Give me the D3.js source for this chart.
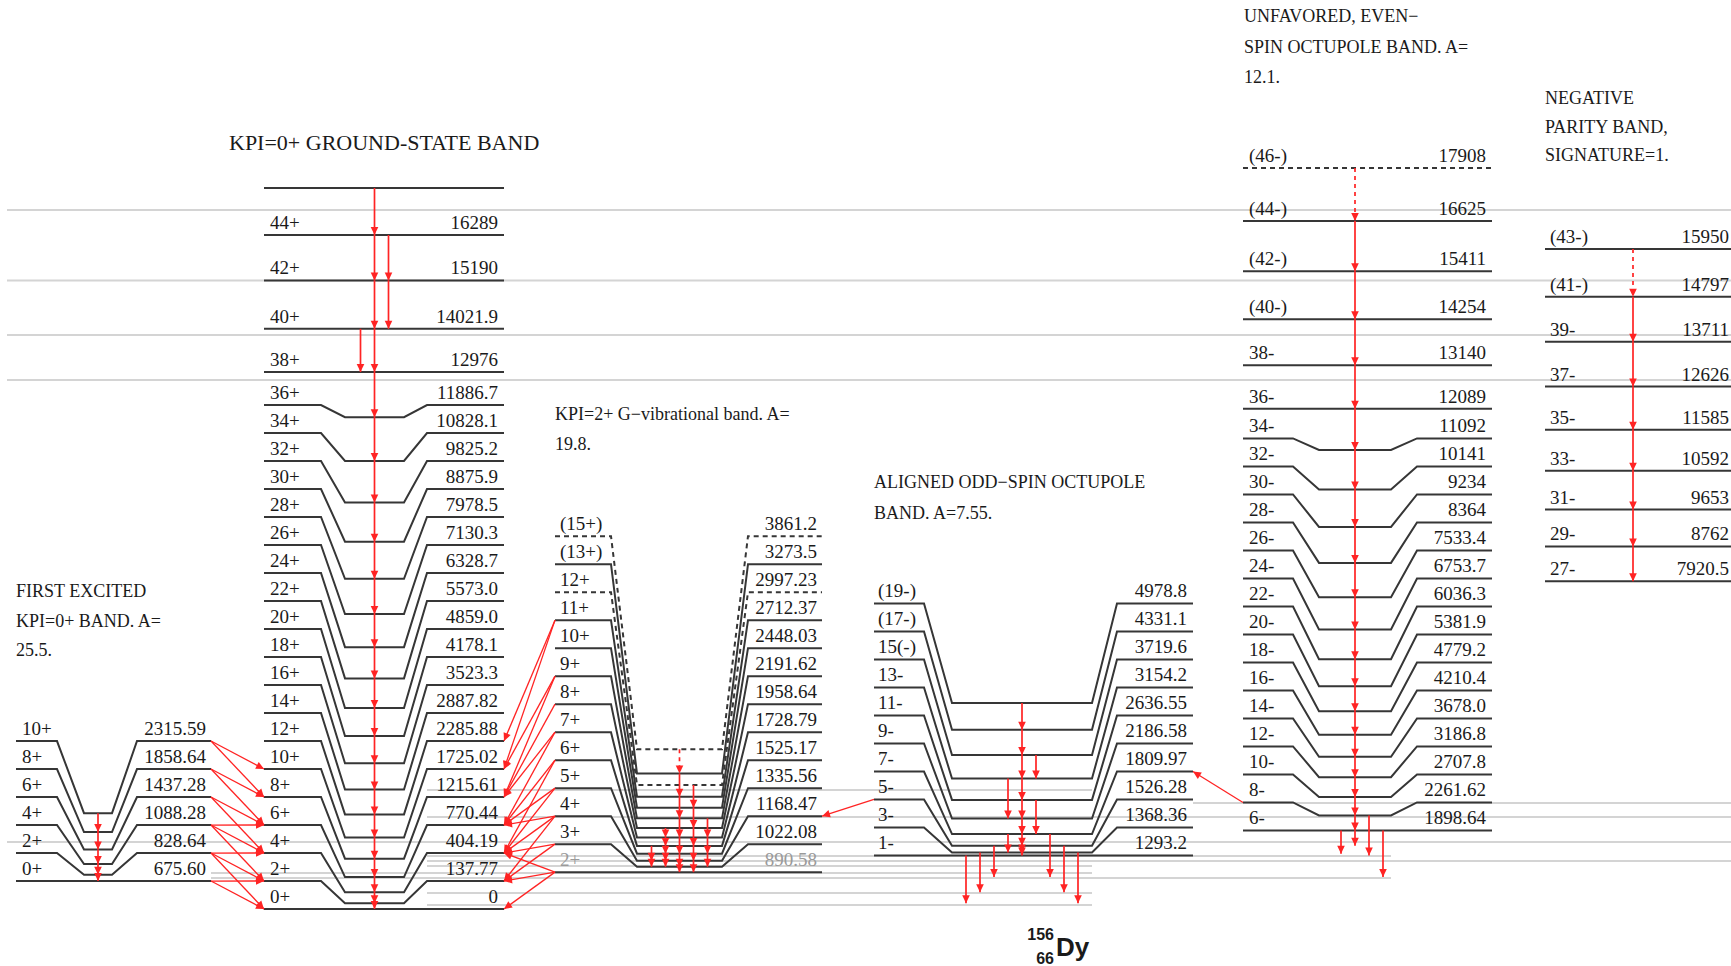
<!DOCTYPE html>
<html>
<head>
<meta charset="utf-8">
<script src="https://cdn.jsdelivr.net/npm/d3@7"></script>
<style>
  html, body { margin: 0; padding: 0; background: #fff; }
  svg { display: block; }
</style>
</head>
<body>
<svg id="chart" width="1731" height="966"></svg>
<script>
// ---------------- Level data (energies in keV) ----------------
const febSpin   = ["0+","2+","4+","6+","8+","10+"];
const febEnergy = ["675.60","828.64","1088.28","1437.28","1858.64","2315.59"];

const gsbSpin   = ["0+","2+","4+","6+","8+","10+","12+","14+","16+","18+","20+","22+","24+","26+","28+","30+","32+","34+","36+","38+","40+","42+","44+"];
const gsbEnergy = ["0","137.77","404.19","770.44","1215.61","1725.02","2285.88","2887.82","3523.3","4178.1","4859.0","5573.0","6328.7","7130.3","7978.5","8875.9","9825.2","10828.1","11886.7","12976","14021.9","15190","16289"];
const gsbTopUnlabelled = 17424;   // unlabelled level feeding 44+

const gamSpin   = ["2+","3+","4+","5+","6+","7+","8+","9+","10+","11+","12+","(13+)","(15+)"];
const gamEnergy = ["890.58","1022.08","1168.47","1335.56","1525.17","1728.79","1958.64","2191.62","2448.03","2712.37","2997.23","3273.5","3861.2"];
const gamTentative = ["12+","(15+)"];

const osbSpin   = ["1-","3-","5-","7-","9-","11-","13-","15(-)","(17-)","(19-)"];
const osbEnergy = ["1293.2","1368.36","1526.28","1809.97","2186.58","2636.55","3154.2","3719.6","4331.1","4978.8"];

const uebSpin   = ["6-","8-","10-","12-","14-","16-","18-","20-","22-","24-","26-","28-","30-","32-","34-","36-","38-","(40-)","(42-)","(44-)","(46-)"];
const uebEnergy = ["1898.64","2261.62","2707.8","3186.8","3678.0","4210.4","4779.2","5381.9","6036.3","6753.7","7533.4","8364","9234","10141","11092","12089","13140","14254","15411","16625","17908"];
const uebTentative = ["(46-)"];

const npbSpin   = ["27-","29-","31-","33-","35-","37-","39-","(41-)","(43-)"];
const npbEnergy = ["7920.5","8762","9653","10592","11585","12626","13711","14797","15950"];

// Band captions
const febTitle = ["FIRST EXCITED","KPI=0+ BAND. A=","25.5."];
const gsbTitle = ["KPI=0+ GROUND-STATE BAND"];
const gamTitle = ["KPI=2+ G\u2212vibrational band. A=","19.8."];
const osbTitle = ["ALIGNED ODD\u2212SPIN OCTUPOLE","BAND. A=7.55."];
const uebTitle = ["UNFAVORED, EVEN\u2212","SPIN OCTUPOLE BAND. A=","12.1."];
const npbTitle = ["NEGATIVE","PARITY BAND,","SIGNATURE=1."];

// ---------------- Transition data ----------------
// In-band cascades: gamma rays between successive entries of each path
const febCascades = [{path:["10+","8+","6+","4+","2+","0+"]}];
const gsbCascades = [
  {path:["","44+","42+","40+","38+","36+","34+","32+","30+","28+","26+","24+","22+","20+","18+","16+","14+","12+","10+","8+","6+","4+","2+","0+"]},
  {path:["44+","42+","40+"]},
  {path:["40+","38+"]}
];
const gamCascades = [
  {path:["(15+)","(13+)"], tentative:true},
  {path:["(13+)","11+","9+","7+","5+","3+","2+"]},
  {path:["12+","10+","8+","6+","4+","2+"]},
  {path:["9+","7+","5+","3+"]},
  {path:["8+","7+"], tentative:true},
  {path:["7+","6+","5+","4+","3+"]},
  {path:["6+","4+","3+"]}
];
const osbCascades = [
  {path:["(19-)","(17-)","15(-)","13-","11-","9-","7-","5-","3-","1-"]},
  {path:["15(-)","13-"]},
  {path:["11-","7-"]},
  {path:["13-","9-"]},
  {path:["7-","3-"]}
];
const uebCascades = [
  {path:["(46-)","(44-)"], tentative:true},
  {path:["(44-)","(42-)","(40-)","38-","36-","34-","32-","30-","28-","26-","24-","22-","20-","18-","16-","14-","12-","10-","8-","6-"]}
];
const npbCascades = [
  {path:["(43-)","(41-)"], tentative:true},
  {path:["(41-)","39-","37-","35-","33-","31-","29-","27-"]}
];

// Out-of-band decays drawn straight down from the emitting band
const dropDecays = [
  ["osb","1-","gsb","2+"],
  ["osb","3-","gsb","4+"],
  ["osb","5-","gsb","6+"],
  ["osb","7-","gsb","6+"],
  ["osb","5-","gsb","4+"],
  ["osb","3-","gsb","2+"],
  ["ueb","6-","osb","5-"],
  ["ueb","6-","gam","5+"],
  ["ueb","8-","osb","1-"],
  ["ueb","6-","gsb","6+"]
];

// Inter-band decays drawn between neighbouring label lines
const febToGsb = [["10+","10+"],["10+","8+"],["8+","8+"],["8+","6+"],["6+","6+"],["6+","4+"],["4+","6+"],["4+","4+"],["4+","2+"],["2+","4+"],["2+","2+"],["2+","0+"],["0+","2+"],["0+","0+"]];
const gamToGsb = [["11+","12+"],["11+","10+"],["9+","10+"],["9+","8+"],["8+","8+"],["7+","8+"],["7+","6+"],["6+","6+"],["6+","4+"],["5+","6+"],["5+","4+"],["4+","6+"],["4+","4+"],["4+","2+"],["3+","4+"],["3+","2+"],["2+","4+"],["2+","2+"],["2+","0+"]];
const osbToGam = [["5-","4+"]];
const uebToOsb = [["8-","7-"]];

// Faint reference lines marking final-state energies
const guideEnergy = [16890, 15190, 13870, 12785, 2876, 2562, 2223, 1619, 1281, 1160, 1039, 870, 749, 387, 97];
const guideSpan   = ["all","all","all","all","gsb-osb","osb-right","gsb-right","all","gsb-ueb","gsb-right","gsb-osb","feb-osb","feb-ueb","gsb-osb","gsb-osb"];

// ---------------- Layout ----------------
const W = 1731, H = 966;
const LABEL_GAP = 28;     // minimum spacing of label lines
const LANE_STEP = 14;

const geom = {
  feb: {xL0:16,   xL1:57,   xI0:84,   xI1:112,  xR0:137,  xR1:211,  labelX:22,   energyX:206},
  gsb: {xL0:264,  xL1:321,  xI0:345,  xI1:404,  xR0:427,  xR1:504,  labelX:270,  energyX:498},
  gam: {xL0:555,  xL1:611,  xI0:637,  xI1:722,  xR0:748,  xR1:822,  labelX:560,  energyX:817},
  osb: {xL0:874,  xL1:924,  xI0:952,  xI1:1092, xR0:1117, xR1:1193, labelX:878,  energyX:1187},
  ueb: {xL0:1243, xL1:1293, xI0:1319, xI1:1391, xR0:1417, xR1:1492, labelX:1249, energyX:1486},
  npb: {xL0:1545, xL1:1600, xI0:1600, xI1:1700, xR0:1700, xR1:1770, labelX:1550, energyX:1729, laneX:1633}
};
const cascadeLanes = {
  feb: [0],
  gsb: [0, 1, -1],
  gam: [0, 0, 1, 2, -1, -1, -2],
  osb: [0, 1, 1, -1, -1],
  ueb: [0, 0],
  npb: [0, 0]
};
const dropLanes = [-4, -3, -2, 2, 3, 4, 0, -1, 1, 2];
const titleLayout = {
  gsb: {x:229,  y:150, size:22, lead:30},
  feb: {x:16,   y:597, size:18, lead:29.5},
  gam: {x:555,  y:420, size:18, lead:30},
  osb: {x:874,  y:488, size:18, lead:31},
  ueb: {x:1244, y:22,  size:18, lead:30.5},
  npb: {x:1545, y:104, size:18, lead:28.5}
};
const spanX = {
  "all":       [7, W],
  "gsb-osb":   [427, 1092],
  "osb-right": [1193, W],
  "gsb-right": [427, W],
  "gsb-ueb":   [427, 1391],
  "feb-osb":   [211, 1092],
  "feb-ueb":   [211, 1391]
};

const RED = "#ff2424";
const LEVEL = "#363636";
const GUIDE = "#d4d4d4";
const SERIF = "'Liberation Serif','Times New Roman',serif";

// ---------------- Build bands ----------------
function makeBand(key, spins, energies, tentative) {
  const levels = spins.map((s, i) => ({spin: s, label: energies[i], E: +energies[i], tentative: (tentative || []).includes(s)}));
  return {key, levels};
}
const bands = {
  feb: makeBand("feb", febSpin, febEnergy),
  gsb: makeBand("gsb", gsbSpin, gsbEnergy),
  gam: makeBand("gam", gamSpin, gamEnergy, gamTentative),
  osb: makeBand("osb", osbSpin, osbEnergy),
  ueb: makeBand("ueb", uebSpin, uebEnergy, uebTentative),
  npb: makeBand("npb", npbSpin, npbEnergy)
};
bands.gsb.levels.push({spin: "", label: "", E: gsbTopUnlabelled, tentative: false});

const allE = Object.values(bands).flatMap(b => b.levels.map(l => l.E));
const y = d3.scaleLinear().domain([0, d3.max(allE)]).range([909, 168]);

// level position (inner) and label-line position (outer, pushed apart)
Object.values(bands).forEach(b => {
  b.levels.forEach((l, i) => {
    l.yi = y(l.E);
    l.yo = i === 0 ? l.yi : Math.min(l.yi, b.levels[i - 1].yo - LABEL_GAP);
  });
  b.bySpin = new Map(b.levels.map(l => [l.spin, l]));
  const g = geom[b.key];
  const center = g.laneX !== undefined ? g.laneX : (g.xI0 + g.xI1) / 2;
  b.lane = d3.scaleLinear().domain([0, 1]).range([center, center + LANE_STEP]);
});

const svg = d3.select("#chart");
svg.append("rect").attr("width", W).attr("height", H).attr("fill", "#fff");

// ---------------- Guide lines ----------------
svg.append("g").selectAll("line")
  .data(guideEnergy.map((e, i) => ({E: e, span: spanX[guideSpan[i]]})))
  .join("line")
  .attr("x1", d => d.span[0]).attr("x2", d => d.span[1])
  .attr("y1", d => y(d.E)).attr("y2", d => y(d.E))
  .attr("stroke", GUIDE).attr("stroke-width", 2);

// ---------------- Levels ----------------
const levelG = svg.append("g");
Object.values(bands).forEach(b => {
  const g = geom[b.key];
  levelG.selectAll(null).data(b.levels).join("path")
    .attr("d", l => {
      if (Math.abs(l.yo - l.yi) < 0.5) return `M${g.xL0},${l.yi}H${g.xR1}`;
      return `M${g.xL0},${l.yo}H${g.xL1}L${g.xI0},${l.yi}H${g.xI1}L${g.xR0},${l.yo}H${g.xR1}`;
    })
    .attr("fill", "none")
    .attr("stroke", LEVEL)
    .attr("stroke-width", 2)
    .attr("stroke-dasharray", l => l.tentative ? "5,4" : null);

  const faint = l => (b.key === "gam" && l.spin === "2+");
  levelG.selectAll(null).data(b.levels.filter(l => l.spin !== "")).join("text")
    .attr("x", g.labelX).attr("y", l => l.yo - 6)
    .attr("font-family", SERIF).attr("font-size", 19)
    .attr("fill", l => faint(l) ? "#9a9a9a" : "#1a1a1a")
    .text(l => l.spin);
  levelG.selectAll(null).data(b.levels.filter(l => l.label !== "")).join("text")
    .attr("x", g.energyX).attr("y", l => l.yo - 6)
    .attr("text-anchor", "end")
    .attr("font-family", SERIF).attr("font-size", 19)
    .attr("fill", l => faint(l) ? "#9a9a9a" : "#1a1a1a")
    .text(l => l.label);
});

// ---------------- Titles ----------------
const titles = {gsb: gsbTitle, feb: febTitle, gam: gamTitle, osb: osbTitle, ueb: uebTitle, npb: npbTitle};
Object.entries(titles).forEach(([k, lines]) => {
  const t = titleLayout[k];
  svg.append("g").selectAll("text").data(lines).join("text")
    .attr("x", t.x).attr("y", (d, i) => t.y + i * t.lead)
    .attr("font-family", SERIF).attr("font-size", t.size)
    .attr("fill", "#1a1a1a")
    .text(d => d);
});

// ---------------- Transitions ----------------
const arrowG = svg.append("g");
function head(x, yTip, angle, len = 8, half = 3.8) {
  // triangle with its tip at (x, yTip), pointing along angle (radians)
  const ca = Math.cos(angle), sa = Math.sin(angle);
  const bx = x - ca * len, by = yTip - sa * len;
  const px = -sa * half, py = ca * half;
  return `M${x},${yTip}L${bx + px},${by + py}L${bx - px},${by - py}Z`;
}
function drawArrow(x1, y1, x2, y2, dashed, width = 1.7) {
  arrowG.append("line")
    .attr("x1", x1).attr("y1", y1).attr("x2", x2).attr("y2", y2)
    .attr("stroke", RED).attr("stroke-width", width)
    .attr("stroke-dasharray", dashed ? "4,4" : null);
  arrowG.append("path")
    .attr("d", head(x2, y2, Math.atan2(y2 - y1, x2 - x1)))
    .attr("fill", RED);
}

// in-band cascades
const cascades = {feb: febCascades, gsb: gsbCascades, gam: gamCascades, osb: osbCascades, ueb: uebCascades, npb: npbCascades};
Object.entries(cascades).forEach(([k, list]) => {
  const b = bands[k];
  list.forEach((c, ci) => {
    const x = b.lane(cascadeLanes[k][ci]);
    d3.pairs(c.path).forEach(([from, to]) => {
      drawArrow(x, b.bySpin.get(from).yi, x, b.bySpin.get(to).yi, !!c.tentative);
    });
  });
});

// decays leaving a band vertically
dropDecays.forEach(([fb, fs, tb, ts], i) => {
  const x = bands[fb].lane(dropLanes[i]);
  drawArrow(x, bands[fb].bySpin.get(fs).yi, x, bands[tb].bySpin.get(ts).yi, false);
});

// slanted inter-band decays between the label lines of neighbouring bands
function slanted(list, fromBand, toBand, fromEdge, toEdge) {
  list.forEach(([fs, ts]) => {
    const a = bands[fromBand].bySpin.get(fs), b = bands[toBand].bySpin.get(ts);
    drawArrow(geom[fromBand][fromEdge], a.yo, geom[toBand][toEdge], b.yo, false, 1.3);
  });
}
slanted(febToGsb, "feb", "gsb", "xR1", "xL0");
slanted(gamToGsb, "gam", "gsb", "xL0", "xR1");
slanted(osbToGam, "osb", "gam", "xL0", "xR1");
slanted(uebToOsb, "ueb", "osb", "xL0", "xR1");

// ---------------- Nucleus label ----------------
const nuc = svg.append("g").attr("font-family", "'Liberation Sans',Arial,sans-serif").attr("font-weight", "bold").attr("fill", "#1a1a1a");
nuc.append("text").attr("x", 1054).attr("y", 940).attr("text-anchor", "end").attr("font-size", 16).text("156");
nuc.append("text").attr("x", 1054).attr("y", 964).attr("text-anchor", "end").attr("font-size", 16).text("66");
nuc.append("text").attr("x", 1056).attr("y", 956).attr("font-size", 26).text("Dy");
</script>
</body>
</html>
